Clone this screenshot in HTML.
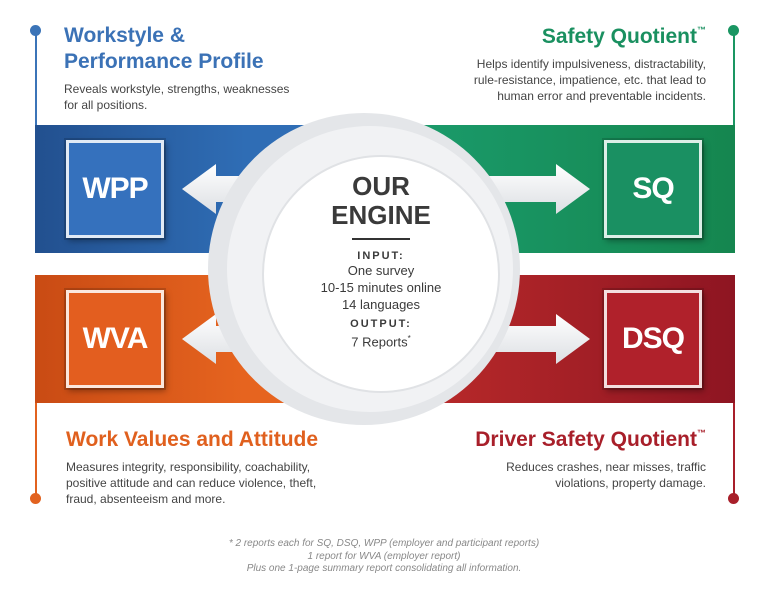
<!DOCTYPE html>
<html><head><style>
body{margin:0;width:768px;height:604px;background:#fff;position:relative;overflow:hidden;font-family:"Liberation Sans",sans-serif;}
.a{position:absolute}
.t{font-weight:bold;font-size:21px;line-height:26px}
.t sup{font-size:9px;line-height:0;vertical-align:10px}
.d{font-size:12px;line-height:16px;color:#444}
.box{position:absolute;width:92px;height:92px;border:3px solid rgba(255,255,255,.85);box-shadow:0 0 0 2px rgba(0,0,0,.15),2px 3px 6px rgba(0,0,0,.35);color:#fff;font-weight:bold;font-size:30px;display:flex;align-items:center;justify-content:center;letter-spacing:-1px}
.ln{position:absolute;width:2px}
.dot{position:absolute;width:11px;height:11px;border-radius:50%}
</style></head><body>
<div class="a" style="left:35px;top:125px;width:700px;height:128px;background:linear-gradient(90deg,#22508f 0%,#2f6db5 30%,#2f6db5 45%,#1a9a6a 55%,#15864f 100%)"></div>
<div class="a" style="left:35px;top:275px;width:700px;height:128px;background:linear-gradient(90deg,#c94b14 0%,#e6641f 30%,#e6641f 45%,#b92a2a 55%,#8e1522 100%)"></div>
<div class="ln" style="left:35px;top:30px;height:95px;background:#3b74b8"></div>
<div class="dot" style="left:30px;top:25px;background:#3b74b8"></div>
<div class="ln" style="left:733px;top:30px;height:95px;background:#1a9662"></div>
<div class="dot" style="left:728px;top:25px;background:#1a9662"></div>
<div class="ln" style="left:35px;top:403px;height:95px;background:#e2621f"></div>
<div class="dot" style="left:30px;top:493px;background:#e2621f"></div>
<div class="ln" style="left:733px;top:403px;height:95px;background:#a81f2a"></div>
<div class="dot" style="left:728px;top:493px;background:#a81f2a"></div>
<svg class="a" style="left:0;top:0" width="768" height="604">
<defs><linearGradient id="g" x1="0" x2="0" y1="0" y2="1"><stop offset="0" stop-color="#fff"/><stop offset="1" stop-color="#dcdfe3"/></linearGradient></defs>
<g fill="url(#g)">
<polygon points="182,189 216,164 216,176 300,176 300,202 216,202 216,214"/>
<polygon points="182,339 216,314 216,326 300,326 300,352 216,352 216,364"/>
<polygon points="590,189 556,164 556,176 470,176 470,202 556,202 556,214"/>
<polygon points="590,339 556,314 556,326 470,326 470,352 556,352 556,364"/>
</g>
<circle cx="364" cy="269" r="156" fill="#e4e6e9"/>
<circle cx="370" cy="269" r="143" fill="#f1f2f4"/>
<circle cx="381" cy="274" r="118" fill="#fff" stroke="#e0e2e5" stroke-width="2"/>
</svg>
<div class="box" style="left:66px;top:140px;background:#3571bd">WPP</div>
<div class="box" style="left:604px;top:140px;background:#1a9062">SQ</div>
<div class="box" style="left:66px;top:290px;background:#e35e1f">WVA</div>
<div class="box" style="left:604px;top:290px;background:#b0212b">DSQ</div>
<div class="a" style="left:301px;top:172px;width:160px;text-align:center;color:#3a3a3a">
<div style="font-weight:bold;font-size:26px;line-height:29px">OUR<br>ENGINE</div>
<div style="width:58px;height:2px;background:#333;margin:8px auto 10px"></div>
<div style="font-weight:bold;font-size:11px;letter-spacing:2px">INPUT:</div>
<div style="font-size:13px;line-height:17px">One survey<br>10-15 minutes online<br>14 languages</div>
<div style="font-weight:bold;font-size:11px;letter-spacing:2px;margin-top:5px">OUTPUT:</div>
<div style="font-size:13px;line-height:17px">7 Reports<sup style="font-size:8px">*</sup></div>
</div>
<div class="a t" style="left:64px;top:23px;color:#3b72b6">Workstyle &amp;<br>Performance Profile</div>
<div class="a d" style="left:64px;top:81px">Reveals workstyle, strengths, weaknesses<br>for all positions.</div>
<div class="a t" style="right:62px;top:24px;color:#1a9060;text-align:right">Safety Quotient<sup>™</sup></div>
<div class="a d" style="right:62px;top:56px;text-align:right">Helps identify impulsiveness, distractability,<br>rule-resistance, impatience, etc. that lead to<br>human error and preventable incidents.</div>
<div class="a t" style="left:66px;top:427px;color:#e0601e">Work Values and Attitude</div>
<div class="a d" style="left:66px;top:459px">Measures integrity, responsibility, coachability,<br>positive attitude and can reduce violence, theft,<br>fraud, absenteeism and more.</div>
<div class="a t" style="right:62px;top:427px;color:#a81f2a;text-align:right">Driver Safety Quotient<sup>™</sup></div>
<div class="a d" style="right:62px;top:459px;text-align:right">Reduces crashes, near misses, traffic<br>violations, property damage.</div>
<div class="a" style="left:0;top:538px;width:768px;text-align:center;font-size:10px;line-height:12.5px;color:#888;font-style:italic">* 2 reports each for SQ, DSQ, WPP (employer and participant reports)<br>1 report for WVA (employer report)<br>Plus one 1-page summary report consolidating all information.</div>
</body></html>
